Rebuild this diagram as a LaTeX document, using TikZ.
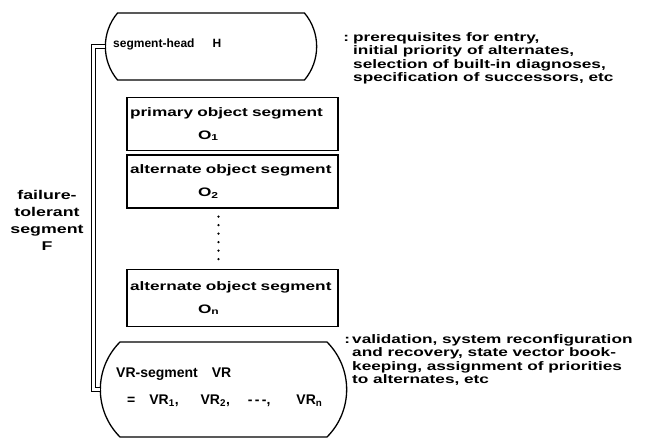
\documentclass[tikz,border=0pt]{standalone}
\usepackage{fontspec}
\setmainfont{Liberation Sans}[FakeStretch=1.4]
\newfontfamily\plainfont{Liberation Sans}
\usetikzlibrary{shapes.misc}

\begin{document}
\begin{tikzpicture}[x=1pt,y=-1pt,
  seg/.style={draw, line width=1.3pt, rounded rectangle, rounded rectangle arc length=80},
  objbox/.style={draw, line width=1.3pt, align=left, text width=205pt, minimum height=53pt,
    inner sep=3pt, font=\fontsize{12.3}{23}\selectfont\bfseries},
  note/.style={align=left, inner sep=0pt, font=\fontsize{12.3}{13.6}\selectfont\bfseries}]
  \useasboundingbox (0,0) rectangle (651,440);

  % Segment head
  \node[seg, minimum width=218pt, minimum height=67pt] (head) at (211,46.5) {};
  \node[anchor=west, inner sep=0pt, font=\plainfont\fontsize{12}{14}\selectfont\bfseries] (headtext) at (113,44) {segment-head\hspace{18pt}H};

  % Object segments
  \node[objbox] (prim) at (232.5,124) {\mbox{primary object segment}\\\hspace*{68pt}O\textsubscript{1}};
  \node[objbox] (alt2) at (232.5,181.5) {\mbox{alternate object segment}\\\hspace*{68pt}O\textsubscript{2}};
  \node[objbox, minimum height=57pt] (altn) at (232.5,298) {\mbox{alternate object segment}\\\hspace*{68pt}O\textsubscript{n}};
  \draw[line width=2.6pt, line cap=round, dash pattern=on 0pt off 8.5pt, shorten >=8pt, shorten <=8pt]
    ([xshift=-14pt]alt2.south) -- ([xshift=-14pt]altn.north);

  % VR segment
  \node[seg, rounded rectangle arc length=90, minimum width=253pt, minimum height=95pt] (vr) at (223.5,389.5) {};
  \node[anchor=west, align=left, inner sep=0pt, font=\plainfont\fontsize{14}{27}\selectfont\bfseries] (vrtext) at (116,387)
    {VR-segment\hspace{14pt}VR\\\hspace*{11pt}=\hspace{14pt}VR\textsubscript{1},\hspace{22pt}VR\textsubscript{2},\hspace{18pt}-\,-\,-,\hspace{26pt}VR\textsubscript{n}};

  % Failure-tolerant segment
  \coordinate (rail) at (93.5,0);
  \draw[double, double distance=2.5pt, line width=1.4pt] (head.west) -- (head.west -| rail) -- (vr.west -| rail) -- (vr.west);
  \node[align=center, inner sep=0pt, font=\fontsize{12.7}{17}\selectfont\bfseries] (ftlabel) at (47,220) {failure-\\tolerant\\segment\\F};

  % Notes
  \node[note, anchor=north west] (headnote) at (353,32)
    {\llap{:\hspace{4pt}}prerequisites for entry,\\initial priority of alternates,\\selection of built-in diagnoses,\\specification of successors, etc};
  \node[note, anchor=north west] (vrnote) at (352,334)
    {\llap{:\hspace{2pt}}validation, system reconfiguration\\and recovery, state vector book-\\keeping, assignment of priorities\\to alternates, etc};
\end{tikzpicture}
\end{document}
